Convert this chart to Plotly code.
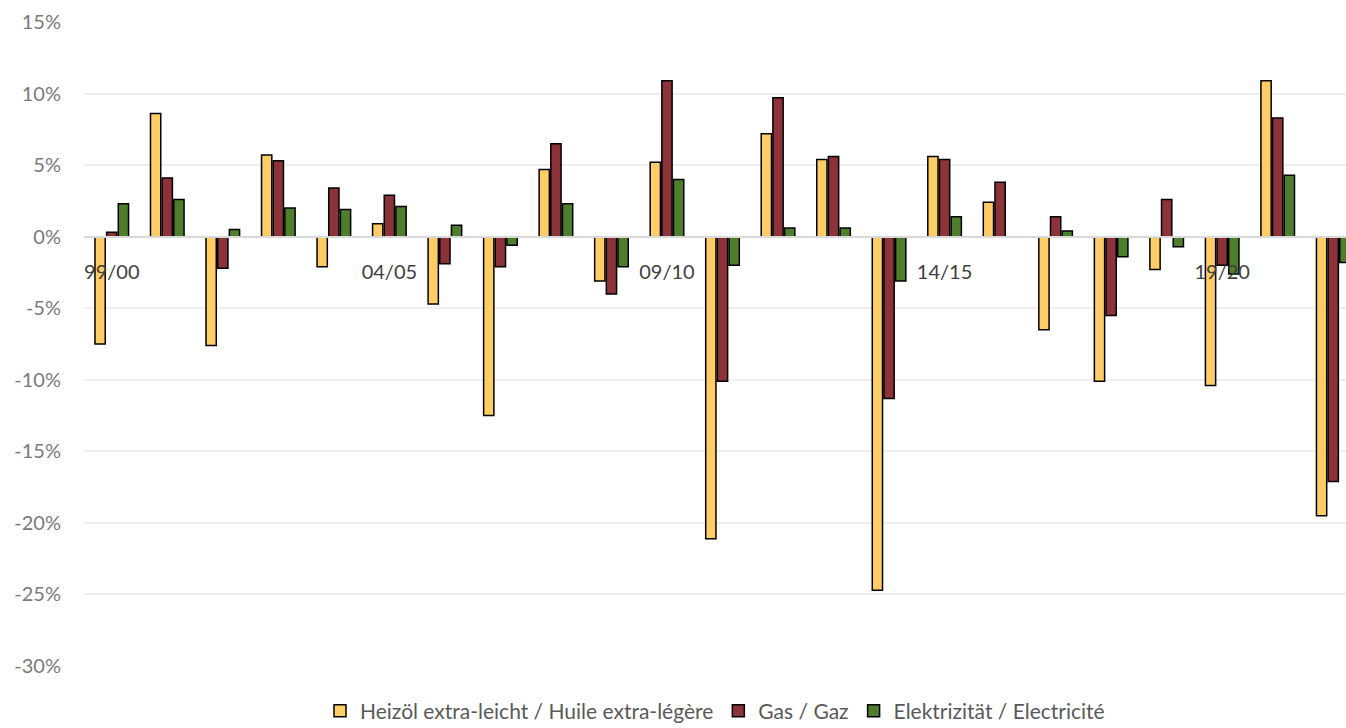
import plotly.graph_objects as go

categories = ["99/00", "00/01", "01/02", "02/03", "03/04", "04/05", "05/06", "06/07",
              "07/08", "08/09", "09/10", "10/11", "11/12", "12/13", "13/14", "14/15",
              "15/16", "16/17", "17/18", "18/19", "19/20", "20/21", "21/22"]
oil = [-7.5, 8.6, -7.6, 5.7, -2.1, 0.9, -4.7, -12.5, 4.7, -3.1, 5.2, -21.1, 7.2, 5.4,
       -24.7, 5.6, 2.4, -6.5, -10.1, -2.3, -10.4, 10.9, -19.5]
gas = [0.3, 4.1, -2.2, 5.3, 3.4, 2.9, -1.9, -2.1, 6.5, -4.0, 10.9, -10.1, 9.7, 5.6,
       -11.3, 5.4, 3.8, 1.4, -5.5, 2.6, -2.0, 8.3, -17.1]
elec = [2.3, 2.6, 0.5, 2.0, 1.9, 2.1, 0.8, -0.6, 2.3, -2.1, 4.0, -2.0, 0.6, 0.6,
        -3.1, 1.4, 0.0, 0.4, -1.4, -0.7, -2.6, 4.3, -1.8]
tick_labels = ["99/00", "04/05", "09/10", "14/15", "19/20"]
y_ticks = [15, 10, 5, 0, -5, -10, -15, -20, -25, -30]

names = ["Heizöl extra-leicht / Huile extra-légère", "Gas / Gaz", "Elektrizität / Electricité"]
colors = ["#FFCC66", "#8B3339", "#4E7D2C"]

fig = go.Figure()
for name, vals, col in zip(names, [oil, gas, elec], colors):
    fig.add_trace(go.Bar(
        x=categories, y=vals, name=name,
        marker=dict(color=col, line=dict(color="#000000", width=1.5)),
    ))

font_family = "Lato, 'Open Sans', sans-serif"
fig.update_layout(
    width=1346, height=728,
    paper_bgcolor="white", plot_bgcolor="white",
    margin=dict(l=84, r=0, t=22, b=62, autoexpand=False),
    barmode="group", bargap=0.37, bargroupgap=0.12,
    font=dict(family=font_family),
    legend=dict(orientation="h", x=0.5, xanchor="center",
                yref="container", y=17 / 728, yanchor="middle",
                font=dict(size=21, color="#595959"), traceorder="normal",
                itemwidth=30),
    xaxis=dict(
        type="category", categoryorder="array", categoryarray=categories,
        range=[-0.5, 22.23],
        tickmode="array", tickvals=tick_labels, ticktext=tick_labels,
        anchor="free", position=30 / 45,
        showline=True, linecolor="#D9D9D9", linewidth=1.5,
        showgrid=False, ticks="", ticklabelstandoff=18,
        tickfont=dict(size=20, color="#404040"),
        layer="above traces",
    ),
    yaxis=dict(
        range=[-30, 15], tickmode="array", tickvals=y_ticks,
        ticktext=[f"{v}%" for v in y_ticks],
        showgrid=True, gridcolor="#EFEFEF", gridwidth=1.5,
        zeroline=False, ticks="", ticklabelstandoff=22,
        tickfont=dict(size=20, color="#7A7A7A"),
    ),
)

fig.write_html("out.html", config={"displayModeBar": False},
               post_script="document.body.style.margin='0';document.body.style.overflow='hidden';")
